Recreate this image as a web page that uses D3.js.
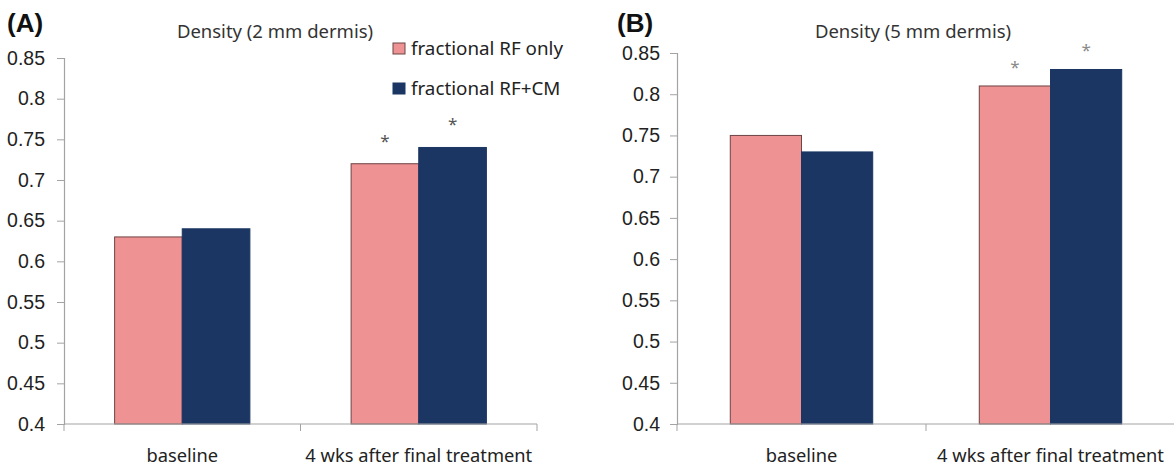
<!DOCTYPE html>
<html>
<head>
<meta charset="utf-8">
<script src="https://cdn.jsdelivr.net/npm/d3@7"></script>
<style>
  body { margin: 0; background: #fff; }
  svg { display: block; font-family: "Noto Sans", "Open Sans", sans-serif; }
</style>
</head>
<body>
<div id="chart"></div>
<script>
// data
const categories = ['baseline', '4 wks after final treatment'];
const seriesNames = ['fractional RF only', 'fractional RF+CM'];
const densityA = [[0.63, 0.64], [0.72, 0.74]];   // 2 mm dermis
const densityB = [[0.75, 0.73], [0.81, 0.83]];   // 5 mm dermis
const significant = [[false, false], [true, true]];
const yTicks = [0.4, 0.45, 0.5, 0.55, 0.6, 0.65, 0.7, 0.75, 0.8, 0.85];

const colors = ['#ee9293', '#1b3662'];
const strokes = ['#6e4444', '#1b3662'];
const axisColor = '#a3a3a3';

const width = 1174, height = 466;

const svg = d3.select('#chart').append('svg')
  .attr('width', width)
  .attr('height', height);

const panels = [
  { label: '(A)', labelX: 7, title: 'Density (2 mm dermis)', titleX: 275,
    data: densityA, x: [64, 537], y: [424, 58], pad: 12, starGap: 17, starColor: '#555' },
  { label: '(B)', labelX: 617, title: 'Density (5 mm dermis)', titleX: 913,
    data: densityB, x: [677, 1175], y: [424, 53], pad: 10, starGap: 13, starColor: '#8a8a8a' }
];

panels.forEach(p => {
  const x0 = d3.scaleBand()
    .domain(categories)
    .range(p.x)
    .paddingInner(0.428)
    .paddingOuter(0.214);

  const x1 = d3.scaleBand()
    .domain(d3.range(seriesNames.length))
    .range([0, x0.bandwidth()]);

  const y = d3.scaleLinear()
    .domain([0.4, 0.85])
    .range(p.y);

  // panel letter + title
  svg.append('text')
    .attr('x', p.labelX)
    .attr('y', 32)
    .style('font-family', '"Liberation Sans", Arial, sans-serif')
    .style('font-weight', 'bold')
    .style('font-size', '26px')
    .attr('fill', '#111')
    .text(p.label);

  svg.append('text')
    .attr('x', p.titleX)
    .attr('y', 38)
    .attr('text-anchor', 'middle')
    .style('font-size', '18.5px')
    .attr('fill', '#333')
    .text(p.title);

  // y axis
  const yAxis = svg.append('g')
    .attr('transform', `translate(${p.x[0]},0)`)
    .call(d3.axisLeft(y)
      .tickValues(yTicks)
      .tickFormat(d => d3.format('')(+d.toFixed(2)))
      .tickSize(7)
      .tickPadding(p.pad));
  yAxis.select('.domain').attr('stroke', axisColor).attr('stroke-width', 1.2);
  yAxis.selectAll('.tick line').attr('stroke', axisColor);
  yAxis.selectAll('.tick text')
    .style('font-size', '19.5px')
    .attr('fill', '#222');

  // bars
  const groups = svg.append('g').selectAll('g')
    .data(p.data)
    .join('g')
    .attr('transform', (d, i) => `translate(${x0(categories[i])},0)`);

  groups.selectAll('rect')
    .data(d => d)
    .join('rect')
    .attr('x', (d, j) => x1(j))
    .attr('y', d => y(d))
    .attr('width', x1.bandwidth())
    .attr('height', d => y(0.4) - y(d))
    .attr('fill', (d, j) => colors[j])
    .attr('stroke', (d, j) => strokes[j])
    .attr('stroke-width', 1);

  // significance stars
  groups.each(function (d, i) {
    d3.select(this).selectAll('text.star')
      .data(d.map((v, j) => ({ v, j, sig: significant[i][j] })).filter(e => e.sig))
      .join('text')
      .attr('class', 'star')
      .attr('x', e => x1(e.j) + x1.bandwidth() / 2)
      .attr('y', e => y(e.v) - p.starGap)
      .attr('text-anchor', 'middle')
      .style('font-size', '17px')
      .attr('fill', p.starColor)
      .text('*');
  });

  // x axis: ticks at band boundaries
  const xAxisG = svg.append('g')
    .attr('transform', `translate(0,${p.y[0]})`);
  xAxisG.append('line')
    .attr('x1', p.x[0]).attr('x2', p.x[1])
    .attr('stroke', axisColor).attr('stroke-width', 1.2);
  const bounds = [p.x[0], ...categories.map(c => x0(c) + x0.bandwidth() + x0.step() * x0.paddingOuter())];
  xAxisG.selectAll('line.tk')
    .data(bounds)
    .join('line')
    .attr('class', 'tk')
    .attr('x1', d => d).attr('x2', d => d)
    .attr('y1', 0).attr('y2', 7)
    .attr('stroke', axisColor);
  xAxisG.selectAll('text')
    .data(categories)
    .join('text')
    .attr('x', d => x0(d) + x0.bandwidth() / 2)
    .attr('y', 38)
    .attr('text-anchor', 'middle')
    .style('font-size', '18.3px')
    .attr('fill', '#222')
    .text(d => d);
});

// legend (panel A)
const legend = svg.append('g').attr('transform', 'translate(393,43)');
legend.selectAll('rect')
  .data(seriesNames)
  .join('rect')
  .attr('x', 0)
  .attr('y', (d, i) => i * 40)
  .attr('width', 12)
  .attr('height', 11)
  .attr('fill', (d, i) => colors[i])
  .attr('stroke', (d, i) => strokes[i]);
legend.selectAll('text')
  .data(seriesNames)
  .join('text')
  .attr('x', 18)
  .attr('y', (d, i) => i * 40 + 11.5)
  .style('font-size', '18.8px')
  .attr('fill', '#222')
  .text(d => d);
</script>
</body>
</html>
